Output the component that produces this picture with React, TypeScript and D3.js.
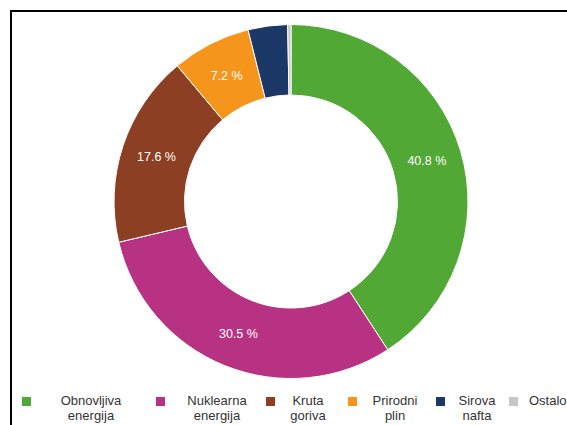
import * as React from 'react';
import * as d3 from 'd3';

const categories = ['Obnovljiva energija', 'Nuklearna energija', 'Kruta goriva', 'Prirodni plin', 'Sirova nafta', 'Ostalo'];
const legendLines = [['Obnovljiva', 'energija'], ['Nuklearna', 'energija'], ['Kruta', 'goriva'], ['Prirodni', 'plin'], ['Sirova', 'nafta'], ['Ostalo']];
const shares = [40.8, 30.5, 17.6, 7.2, 3.6, 0.3];
const colors = ['#52a835', '#b83283', '#8c3f22', '#f6951c', '#1b3866', '#c6c6c6'];

const width = 567;
const height = 425;
const cx = 291;
const cy = 201.5;
const outerR = 177;
const innerR = 106.5;

// legend square x positions and text anchors (layout only)
const legendSquareX = [22, 156, 266, 348, 436, 509];
const legendTextX = [91, 217, 308, 395, 477, 529];

export default function App() {
  const pie = d3.pie<number>().sort(null).value((d) => d)(shares);
  const arc = d3.arc<d3.PieArcDatum<number>>().innerRadius(innerR).outerRadius(outerR);

  return (
    <svg width={width} height={height} style={{ position: 'absolute', left: 0, top: 0, background: '#fff' }}
      fontFamily="'Liberation Sans', Arial, sans-serif">
      <rect x={11} y={11} width={width + 20} height={height + 20} fill="#fff" stroke="#000" strokeWidth={2} />
      <g transform={`translate(${cx},${cy})`}>
        {pie.map((p, i) => (
          <path key={categories[i]} d={arc(p) || ''} fill={colors[i]} stroke="#fff" strokeWidth={1} />
        ))}
        {pie.map((p, i) => {
          if (shares[i] < 5) return null;
          const [x, y] = arc.centroid(p);
          return (
            <text key={'l' + i} x={x} y={y} dy="0.35em" textAnchor="middle" fill="#fff" fontSize={12.5}>
              {shares[i].toFixed(1)} %
            </text>
          );
        })}
      </g>
      <g>
        {categories.map((c, i) => (
          <g key={'lg' + c}>
            <rect x={legendSquareX[i]} y={397} width={9} height={9} fill={colors[i]} />
            <text x={legendTextX[i]} y={405} fontSize={13} fill="#333"
              textAnchor={i === 5 ? 'start' : 'middle'}>
              {legendLines[i].map((line, j) => (
                <tspan key={j} x={legendTextX[i]} dy={j === 0 ? 0 : 15}>{line}</tspan>
              ))}
            </text>
          </g>
        ))}
      </g>
    </svg>
  );
}
